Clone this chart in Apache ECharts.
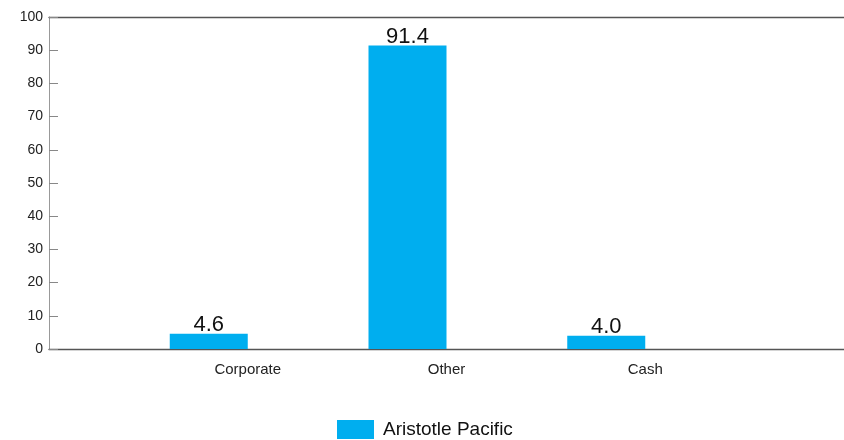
<!DOCTYPE html>
<html><head><meta charset="utf-8">
<script src="https://cdn.jsdelivr.net/npm/echarts@6/dist/echarts.min.js"></script>
<style>html,body{margin:0;padding:0;background:#fff}#c{width:844px;height:440px}</style>
</head><body><div id="c"></div>
<script>
const categories = ['Corporate', 'Other', 'Cash'];
const seriesName = 'Aristotle Pacific';
const values = [4.6, 91.4, 4.0];
const yTicks = [0, 10, 20, 30, 40, 50, 60, 70, 80, 90, 100];

const axisCats = [''].concat(categories, ['']);
const axisVals = [null].concat(values, [null]);
const font = '"Liberation Sans", Arial, sans-serif';

const chart = echarts.init(document.getElementById('c'), null, {renderer: 'canvas'});
chart.setOption({
  animation: false,
  grid: {left: 49, right: 0, top: 17, bottom: 91, containLabel: false, outerBoundsMode: 'none'},
  legend: {
    data: [seriesName], top: 420, left: 337, icon: 'rect',
    itemWidth: 37, itemHeight: 19, itemGap: 10, padding: 0,
    textStyle: {fontFamily: font, fontSize: 19, color: '#111', padding: [0, 0, 0, 4]}
  },
  xAxis: [{
    type: 'category', data: axisCats, boundaryGap: false,
    axisLine: {show: true, lineStyle: {color: '#555', width: 1.3}},
    axisTick: {show: false},
    axisLabel: {show: true, margin: 13, fontFamily: font, fontSize: 15, color: '#222', interval: 0},
    splitLine: {show: false}
  }, {
    type: 'category', data: axisCats, position: 'top', boundaryGap: false,
    axisLine: {show: true, lineStyle: {color: '#555', width: 1.3}},
    axisTick: {show: false}, axisLabel: {show: false}
  }],
  yAxis: {
    type: 'value', min: yTicks[0], max: yTicks[yTicks.length - 1], interval: 10,
    axisLine: {show: true, lineStyle: {color: '#999', width: 1}},
    axisTick: {show: true, inside: true, length: 9, lineStyle: {color: '#888'}},
    axisLabel: {fontFamily: font, fontSize: 14, color: '#222', margin: 6},
    splitLine: {show: false}
  },
  series: [{
    name: seriesName, type: 'bar', data: axisVals, barWidth: 78, barGap: '0%',
    itemStyle: {color: '#00AEEF'},
    label: {show: true, position: 'top', distance: -2, fontFamily: font, fontSize: 22, color: '#111',
      formatter: p => p.value == null ? '' : Number(p.value).toFixed(1)}
  }, {
    name: '_spacer', type: 'bar', data: axisVals.map(() => null), barWidth: 78
  }]
});
</script></body></html>
